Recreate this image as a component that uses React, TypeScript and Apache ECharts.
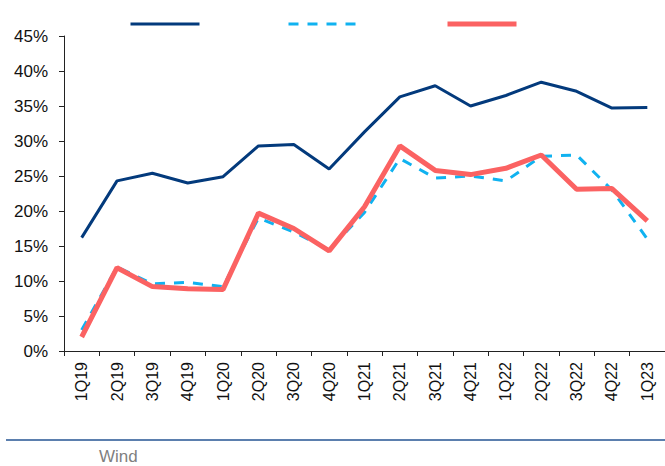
import React, { useEffect, useRef } from "react";
import * as echarts from "echarts";

const categories = ["1Q19","2Q19","3Q19","4Q19","1Q20","2Q20","3Q20","4Q20","1Q21","2Q21","3Q21","4Q21","1Q22","2Q22","3Q22","4Q22","1Q23"];
const seriesA = [16.2,24.3,25.4,24.0,24.9,29.3,29.5,26.0,31.3,36.3,37.9,35.0,36.5,38.4,37.1,34.7,34.8];
const seriesB = [3.0,12.0,9.6,9.8,9.2,19.0,17.0,14.5,19.8,27.5,24.7,25.0,24.3,27.8,28.0,23.0,16.0];
const seriesC = [2.0,11.9,9.2,8.9,8.8,19.7,17.5,14.3,20.6,29.3,25.8,25.2,26.1,28.0,23.1,23.2,18.6];
const yTicks = [0,5,10,15,20,25,30,35,40,45];

export default function App() {
  const ref = useRef<HTMLDivElement>(null);
  useEffect(() => {
    const chart = echarts.init(ref.current!, null, { renderer: "svg" });
    const font = "'Liberation Sans', Arial, sans-serif";
    chart.setOption({
      animation: false,
      backgroundColor: "#ffffff",
      textStyle: { fontFamily: font },
      grid: { left: 64, top: 36, width: 603, height: 315, containLabel: false },
      legend: {
        top: 12,
        left: 124,
        padding: 5,
        itemWidth: 69,
        itemHeight: 14,
        itemGap: 86,
        formatter: () => "",
        textStyle: { fontSize: 1 },
        itemStyle: { opacity: 0 },
        data: [
          { name: "A", lineStyle: { width: 3 } },
          { name: "B", lineStyle: { width: 3 } },
          { name: "C", lineStyle: { width: 5 } },
        ],
      },
      xAxis: {
        type: "category",
        data: categories,
        boundaryGap: true,
        axisLine: { lineStyle: { color: "#222", width: 1 } },
        axisTick: { show: true, length: 5, lineStyle: { color: "#222" } },
        axisLabel: { rotate: 90, fontSize: 16, color: "#111", margin: 11, fontFamily: font, interval: 0 },
        splitLine: { show: false },
      },
      yAxis: {
        type: "value",
        min: 0,
        max: 45,
        interval: 5,
        axisLine: { show: true, lineStyle: { color: "#222", width: 1 } },
        axisTick: { show: true, length: 5, lineStyle: { color: "#222" } },
        axisLabel: {
          fontSize: 17,
          color: "#111",
          margin: 16,
          fontFamily: font,
          formatter: (v: number) => (yTicks.includes(v) ? v + "%" : ""),
        },
        splitLine: { show: false },
      },
      series: [
        {
          name: "A",
          type: "line",
          data: seriesA,
          symbol: "none",
          lineStyle: { color: "#033a7c", width: 3 },
          itemStyle: { color: "#033a7c" },
          z: 3,
        },
        {
          name: "B",
          type: "line",
          data: seriesB,
          symbol: "none",
          lineStyle: { color: "#10b2f0", width: 3, type: [10, 9] },
          itemStyle: { color: "#10b2f0" },
          z: 2,
        },
        {
          name: "C",
          type: "line",
          data: seriesC,
          symbol: "none",
          lineStyle: { color: "#fb6262", width: 5 },
          itemStyle: { color: "#fb6262" },
          z: 4,
        },
      ],
      graphic: [
        {
          type: "line",
          shape: { x1: 6, y1: 440, x2: 665, y2: 440 },
          style: { stroke: "#5b7fae", lineWidth: 2 },
        },
        {
          type: "text",
          left: 99,
          top: 448,
          style: { text: "Wind", fill: "#7f7f7f", fontSize: 17, fontFamily: font },
        },
      ],
    });
    return () => chart.dispose();
  }, []);
  return <div ref={ref} style={{ width: 665, height: 466, position: "fixed", left: 0, top: 0 }} />;
}
